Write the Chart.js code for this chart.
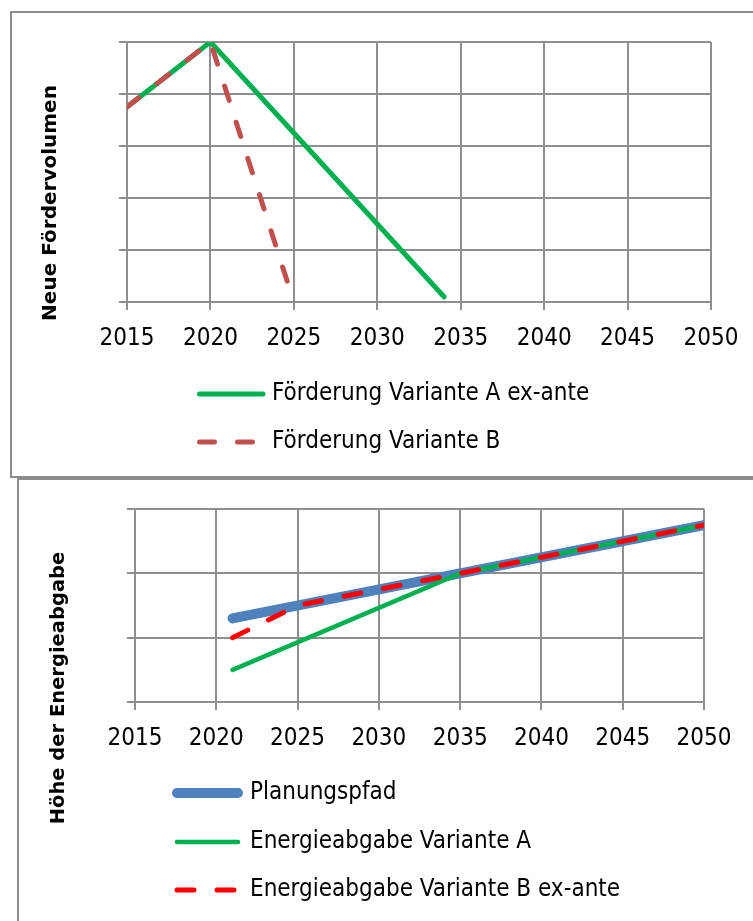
<!DOCTYPE html>
<html>
<head>
<meta charset="utf-8">
<script src="https://cdn.jsdelivr.net/npm/chart.js@4.4.1/dist/chart.umd.min.js"></script>
<style>
  html, body { margin: 0; padding: 0; background: #fff; width: 753px; height: 921px; overflow: hidden; }
  .box { position: absolute; border: 2px solid #8c8c8c; box-sizing: border-box; }
  #box1 { left: 10px; top: 11px; width: 800px; height: 467px; }
  #box2 { left: 17px; top: 478px; width: 800px; height: 500px; }
  canvas { position: absolute; left: 0; }
  #c1 { top: 0; }
  #c2 { top: 479px; }
</style>
</head>
<body>
<div class="box" id="box1"></div>
<div class="box" id="box2"></div>
<canvas id="c1" width="753" height="478"></canvas>
<canvas id="c2" width="753" height="442"></canvas>
<script>
// Achse (Jahre)
const xTicks = [2015, 2020, 2025, 2030, 2035, 2040, 2045, 2050];

// Oberes Diagramm: Neue Fördervolumen
const foerderAJahre = [2015, 2020, 2034];
const foerderA = [3.75, 5, 0.1];
const foerderBJahre = [2015, 2020, 2025];
const foerderB = [3.75, 5, 0];

// Unteres Diagramm: Höhe der Energieabgabe
const planJahre = [2021, 2050];
const planungspfad = [1.3, 2.75];
const energieAJahre = [2021, 2035, 2050];
const energieA = [0.5, 2.0, 2.75];
const energieBJahre = [2021, 2025, 2050];
const energieB = [1.0, 1.5, 2.75];

const labelFont = "'Liberation Sans Narrow', 'DejaVu Sans Condensed', 'Liberation Sans', sans-serif";
const labelSize = 24;
const gridColor = '#8f8f8f';

function points(xs, ys) {
    return xs.map((x, i) => ({ x: x, y: ys[i] }));
}

// Achsentitel und Legende selbst zeichnen
const extras = {
    id: 'extras',
    afterDraw(chart, args, opts) {
        const ctx = chart.ctx;
        ctx.save();
        ctx.translate(opts.titleX, opts.titleY);
        ctx.rotate(-Math.PI / 2);
        ctx.font = opts.titleFont;
        ctx.fillStyle = '#000';
        ctx.textAlign = 'center';
        ctx.textBaseline = 'middle';
        ctx.fillText(opts.title, 0, 0);
        ctx.restore();

        chart.data.datasets.forEach((ds, i) => {
            const y = opts.rowY[i];
            ctx.save();
            ctx.strokeStyle = ds.borderColor;
            ctx.lineWidth = ds.borderWidth;
            ctx.lineCap = ds.borderCapStyle || 'butt';
            ctx.setLineDash(ds.borderDash || []);
            ctx.beginPath();
            ctx.moveTo(opts.lineX1, y);
            ctx.lineTo(opts.lineX2, y);
            ctx.stroke();
            ctx.restore();
            ctx.save();
            ctx.font = labelSize + 'px ' + labelFont;
            ctx.fillStyle = '#000';
            ctx.textAlign = 'left';
            ctx.textBaseline = 'middle';
            ctx.fillText(ds.label, opts.textX, y);
            ctx.restore();
        });
    }
};

function makeOptions(yMax, yWidth, pad, extraOpts) {
    return {
        responsive: false,
        animation: false,
        layout: { padding: pad },
        plugins: {
            legend: { display: false },
            tooltip: { enabled: false },
            extras: extraOpts
        },
        elements: { point: { radius: 0 }, line: { tension: 0 } },
        scales: {
            x: {
                type: 'linear',
                min: 2015,
                max: 2050,
                afterBuildTicks: (scale) => { scale.ticks = xTicks.map(v => ({ value: v })); },
                afterFit: (scale) => { scale.height = 60; },
                ticks: {
                    color: '#000',
                    font: { family: labelFont, size: labelSize },
                    padding: 14,
                    maxRotation: 0,
                    callback: (v) => String(v)
                },
                grid: { color: gridColor, lineWidth: 2, tickLength: 8 },
                border: { color: gridColor, width: 2 }
            },
            y: {
                min: 0,
                max: yMax,
                afterFit: (scale) => { scale.width = yWidth; },
                ticks: { stepSize: 1, display: false },
                grid: { color: gridColor, lineWidth: 2, tickLength: 8 },
                border: { color: gridColor, width: 2 }
            }
        }
    };
}

new Chart(document.getElementById('c1'), {
    type: 'line',
    data: {
        datasets: [{
            label: 'Förderung Variante A ex-ante',
            data: points(foerderAJahre, foerderA),
            borderColor: '#00b050',
            borderWidth: 5,
            borderCapStyle: 'round',
            order: 2
        }, {
            label: 'Förderung Variante B',
            data: points(foerderBJahre, foerderB),
            borderColor: '#c0504d',
            borderWidth: 5,
            borderDash: [15, 23],
            borderCapStyle: 'round',
            order: 1
        }]
    },
    options: makeOptions(5, 127, { left: 0, top: 42, right: 42, bottom: 116 }, {
        title: 'Neue Fördervolumen',
        titleFont: 'bold 20px "DejaVu Sans", Verdana, sans-serif',
        titleX: 51, titleY: 203,
        rowY: [394, 442],
        lineX1: 199.5, lineX2: 263,
        textX: 272
    }),
    plugins: [extras]
});

new Chart(document.getElementById('c2'), {
    type: 'line',
    data: {
        datasets: [{
            label: 'Planungspfad',
            data: points(planJahre, planungspfad),
            borderColor: '#4f81bd',
            borderWidth: 10,
            borderCapStyle: 'round',
            order: 3
        }, {
            label: 'Energieabgabe Variante A',
            data: points(energieAJahre, energieA),
            borderColor: '#00b050',
            borderWidth: 4.5,
            borderCapStyle: 'round',
            order: 2
        }, {
            label: 'Energieabgabe Variante B ex-ante',
            data: points(energieBJahre, energieB),
            borderColor: '#ff0000',
            borderWidth: 5,
            borderDash: [17, 23],
            borderCapStyle: 'round',
            order: 1
        }]
    },
    options: makeOptions(3, 135, { left: 0, top: 30, right: 49, bottom: 159 }, {
        title: 'Höhe der Energieabgabe',
        titleFont: 'bold 19.5px "DejaVu Sans", Verdana, sans-serif',
        titleX: 59, titleY: 209,
        rowY: [314, 363, 411],
        lineX1: 177, lineX2: 238,
        textX: 250
    }),
    plugins: [extras]
});
</script>
</body>
</html>
